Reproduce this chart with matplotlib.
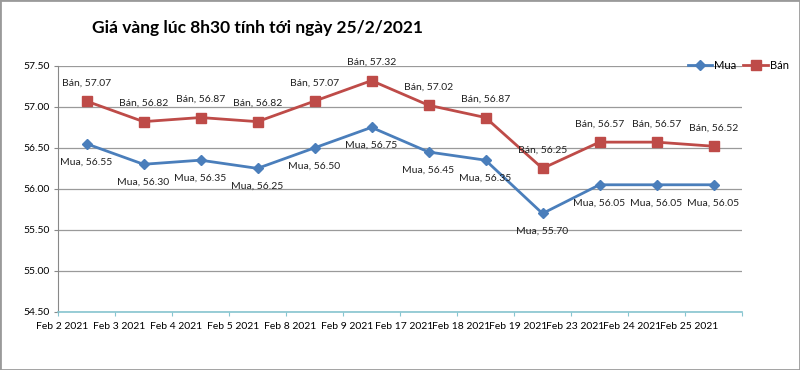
import matplotlib.pyplot as plt
import matplotlib.transforms as mtransforms
from matplotlib.patches import Rectangle

plt.rcParams['font.family'] = ['Lato', 'DejaVu Sans']

dates = ['Feb 2 2021', 'Feb 3 2021', 'Feb 4 2021', 'Feb 5 2021', 'Feb 8 2021', 'Feb 9 2021',
         'Feb 17 2021', 'Feb 18 2021', 'Feb 19 2021', 'Feb 23 2021', 'Feb 24 2021', 'Feb 25 2021']
mua = [56.55, 56.30, 56.35, 56.25, 56.50, 56.75, 56.45, 56.35, 55.70, 56.05, 56.05, 56.05]
ban = [57.07, 56.82, 56.87, 56.82, 57.07, 57.32, 57.02, 56.87, 56.25, 56.57, 56.57, 56.52]

blue = '#4a7ebb'
red = '#be4b48'

fig = plt.figure(figsize=(8, 3.7), dpi=100)
ax = fig.add_axes([0.0725, 0.157, 0.855, 0.665])

x = list(range(len(dates)))
ax.plot(x, mua, color=blue, lw=2, marker='D', ms=5.5, label='Mua', zorder=3)
ax.plot(x, ban, color=red, lw=2, marker='s', ms=7, label='Bán', zorder=3)

for i in x:
    ax.annotate(f'Mua, {mua[i]:.2f}', (i, mua[i]), xytext=(0, -13), textcoords='offset points',
                ha='center', va='center', fontsize=7.5, color='#222222')
    ax.annotate(f'Bán, {ban[i]:.2f}', (i, ban[i]), xytext=(0, 13), textcoords='offset points',
                ha='center', va='center', fontsize=7.5, color='#222222')

ax.set_xlim(-0.5, len(dates) - 0.5)
ax.set_ylim(54.5, 57.5)
ax.set_yticks([54.5 + 0.5 * k for k in range(7)])
ax.set_yticklabels([f'{54.5 + 0.5 * k:.2f}' for k in range(7)], fontsize=7.5)
ax.set_xticks([i - 0.5 for i in range(len(dates) + 1)])
ax.set_xticklabels(dates + [''], fontsize=7.5, ha='center')
ax.tick_params(axis='x', length=3, color='#86c5d0', pad=4)
ax.tick_params(axis='y', length=3, color='#888888', pad=3)
shift = mtransforms.ScaledTranslation(4 / 100, 0, fig.dpi_scale_trans)
for lbl in ax.get_xticklabels():
    lbl.set_transform(lbl.get_transform() + shift)
ax.grid(axis='y', color='#9a9a9a', lw=0.9)
ax.set_axisbelow(True)
for s in ['top', 'right']:
    ax.spines[s].set_visible(False)
ax.spines['left'].set_color('#888888')
ax.spines['bottom'].set_color('#86c5d0')
ax.spines['bottom'].set_linewidth(1.2)

fig.text(0.115, 0.925, 'Giá vàng lúc 8h30 tính tới ngày 25/2/2021', fontsize=12.5,
         fontweight='bold', va='center', ha='left')

fig.legend(loc='center right', bbox_to_anchor=(0.996, 0.822), ncol=2, frameon=False,
           fontsize=8, handlelength=2.2, columnspacing=0.6, handletextpad=0.2,
           borderpad=0.2)

fig.patches.append(Rectangle((0, 0), 1, 1, transform=fig.transFigure, fill=False,
                             edgecolor='#9a9a9a', lw=2))

fig.savefig('out.png', dpi=100)
